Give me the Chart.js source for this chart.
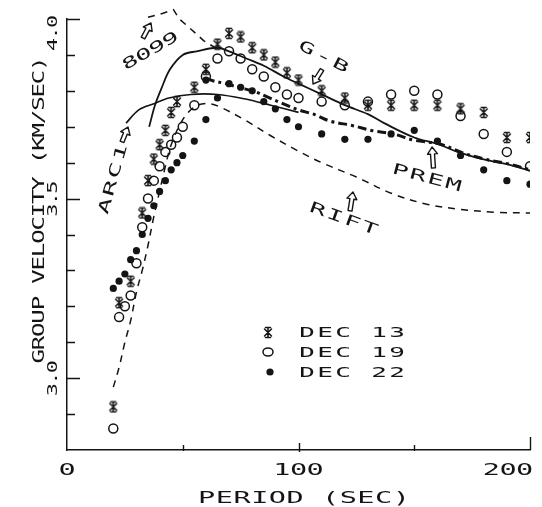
<!DOCTYPE html>
<html>
<head>
<meta charset="utf-8">
<script src="https://cdn.jsdelivr.net/npm/chart.js@4.4.1/dist/chart.umd.min.js"></script>
<style>
  html, body { margin: 0; padding: 0; background: #fff; }
</style>
</head>
<body>
<canvas id="chart" width="542" height="507"></canvas>
<script>
// observed group velocities (period in sec, velocity in km/sec)
const dec13Period = [20, 22.5, 27.5, 32.5, 35, 37.5, 40, 42.5, 45, 47.5, 55, 60, 65, 70, 75, 80, 85, 90, 95, 100, 110, 120, 130, 140, 150, 160, 170, 180, 190, 200];
const dec13Vel = [2.92, 3.21, 3.27, 3.46, 3.55, 3.61, 3.65, 3.69, 3.74, 3.77, 3.81, 3.86, 3.93, 3.96, 3.95, 3.92, 3.90, 3.88, 3.85, 3.83, 3.80, 3.78, 3.76, 3.76, 3.76, 3.76, 3.75, 3.74, 3.67, 3.67];

const dec19Period = [20, 22.5, 25, 27.5, 30, 32.5, 35, 37.5, 40, 42.5, 45, 47.5, 50, 55, 60, 65, 70, 75, 80, 85, 90, 95, 100, 110, 120, 130, 140, 150, 160, 170, 180, 190, 200];
const dec19Vel = [2.86, 3.17, 3.20, 3.23, 3.32, 3.42, 3.50, 3.55, 3.59, 3.63, 3.65, 3.67, 3.70, 3.76, 3.84, 3.89, 3.91, 3.89, 3.86, 3.84, 3.81, 3.79, 3.78, 3.77, 3.76, 3.77, 3.79, 3.80, 3.79, 3.73, 3.68, 3.63, 3.59];

const dec22Period = [20, 22.5, 25, 27.5, 30, 32.5, 35, 37.5, 40, 42.5, 45, 47.5, 50, 55, 60, 60, 65, 70, 75, 80, 85, 90, 95, 100, 110, 120, 130, 140, 150, 160, 170, 180, 190, 200];
const dec22Vel = [3.25, 3.27, 3.29, 3.33, 3.355, 3.40, 3.445, 3.48, 3.52, 3.55, 3.58, 3.60, 3.62, 3.66, 3.72, 3.83, 3.78, 3.82, 3.81, 3.80, 3.77, 3.75, 3.72, 3.70, 3.68, 3.665, 3.665, 3.68, 3.69, 3.66, 3.62, 3.58, 3.55, 3.54];

// model curves
const gbPeriod = [35.5, 38, 41, 44.5, 50, 56, 65, 70, 77.5, 85, 93.5, 100, 110, 120, 130, 137, 150, 160, 170, 180, 190, 200];
const gbVel = [3.70, 3.76, 3.81, 3.86, 3.90, 3.91, 3.92, 3.91, 3.89, 3.87, 3.84, 3.82, 3.79, 3.76, 3.735, 3.71, 3.67, 3.652, 3.627, 3.609, 3.596, 3.578];

const premPeriod = [60, 63, 68.5, 74, 81.5, 86.5, 93, 100, 107, 113.5, 123.5, 132, 141, 149.5, 161, 171, 181, 191, 200];
const premVel = [3.835, 3.828, 3.82, 3.81, 3.797, 3.783, 3.765, 3.747, 3.734, 3.716, 3.703, 3.689, 3.68, 3.663, 3.652, 3.627, 3.609, 3.596, 3.58];

const arcPeriod = [25.5, 31, 37.5, 44, 53.5, 65, 76.5, 88, 100];
const arcVel = [3.71, 3.747, 3.764, 3.78, 3.79, 3.79, 3.778, 3.76, 3.74];

const m8099Period = [35, 41.5, 46, 48.5, 53, 59, 65];
const m8099Vel = [4.005, 4.016, 4.026, 4.0, 3.975, 3.94, 3.916];

const riftPeriod = [20, 22.5, 25, 27.5, 30, 32.5, 35, 37.5, 40, 42.5, 45, 50, 55, 60, 65, 76.5, 88, 100, 110, 125, 140, 155, 170, 185, 200];
const riftVel = [2.975, 3.03, 3.10, 3.16, 3.24, 3.30, 3.37, 3.45, 3.52, 3.59, 3.65, 3.72, 3.755, 3.765, 3.758, 3.72, 3.675, 3.632, 3.60, 3.56, 3.515, 3.485, 3.47, 3.462, 3.46];

// axis ticks
const xLabels = [0, 100, 200];
const xMinor = [50, 150];
const yLabels = [3.0, 3.5, 4.0];
const yMinor = [2.9, 3.1, 3.2, 3.3, 3.4, 3.6, 3.7, 3.8, 3.9];

const ink = '#141414';
const pts = (xs, ys) => xs.map((x, i) => ({ x: x, y: ys[i] }));

// the plotter's asterisk: X with a vertical stroke and bars top and bottom
function starMark() {
  const c = document.createElement('canvas');
  c.width = 12; c.height = 13;
  const g = c.getContext('2d');
  g.strokeStyle = ink; g.lineWidth = 1.5; g.lineCap = 'round';
  g.beginPath();
  g.moveTo(6, 1.5); g.lineTo(6, 11.5);
  g.moveTo(2.5, 3); g.lineTo(9.5, 10);
  g.moveTo(9.5, 3); g.lineTo(2.5, 10);
  g.moveTo(3.5, 1.5); g.lineTo(8.5, 1.5);
  g.moveTo(3.5, 11.5); g.lineTo(8.5, 11.5);
  g.stroke();
  return c;
}
const star = starMark();

// wide plotter-like lettering, one glyph per fixed cell
function plotText(ctx, str, cx, cy, angle, cell, cap, stretch) {
  const size = cap / 0.73;
  ctx.save();
  ctx.translate(cx, cy);
  ctx.rotate(angle);
  ctx.font = size + 'px "DejaVu Sans Mono"';
  ctx.textAlign = 'center';
  ctx.textBaseline = 'alphabetic';
  ctx.fillStyle = ink;
  const n = str.length;
  for (let i = 0; i < n; i++) {
    if (str[i] === ' ') continue;
    ctx.save();
    ctx.translate((i - (n - 1) / 2) * cell, cap / 2);
    ctx.scale(stretch, 1);
    ctx.fillText(str[i], 0, 0);
    ctx.restore();
  }
  ctx.restore();
}

// hollow block arrow, tip at (x, y), pointing along angle
function hollowArrow(ctx, x, y, angle, len) {
  ctx.save();
  ctx.translate(x, y);
  ctx.rotate(angle);
  ctx.beginPath();
  ctx.moveTo(0, 0);
  ctx.lineTo(-7, -5);
  ctx.lineTo(-7, -2);
  ctx.lineTo(-len, -2);
  ctx.lineTo(-len, 2);
  ctx.lineTo(-7, 2);
  ctx.lineTo(-7, 5);
  ctx.closePath();
  ctx.strokeStyle = ink;
  ctx.lineWidth = 1.4;
  ctx.lineJoin = 'round';
  ctx.stroke();
  ctx.restore();
}

const deg = Math.PI / 180;

const decor = {
  id: 'decor',
  afterDraw(chart) {
    const ctx = chart.ctx;
    const xs = chart.scales.x, ys = chart.scales.y;
    const left = chart.chartArea.left, bottom = chart.chartArea.bottom;
    ctx.save();
    ctx.strokeStyle = ink;
    ctx.lineWidth = 1.4;
    ctx.beginPath();
    yMinor.forEach(v => {
      const y = Math.round(ys.getPixelForValue(v)) + 0.5;
      ctx.moveTo(left, y); ctx.lineTo(left + 8, y);
    });
    yLabels.forEach(v => {
      const y = Math.round(ys.getPixelForValue(v)) + 0.5;
      ctx.moveTo(left, y); ctx.lineTo(left + 13, y);
    });
    xMinor.forEach(v => {
      const x = Math.round(xs.getPixelForValue(v)) + 0.5;
      ctx.moveTo(x, bottom + 1); ctx.lineTo(x, bottom - 5);
    });
    [100].forEach(v => {
      const x = Math.round(xs.getPixelForValue(v)) + 0.5;
      ctx.moveTo(x, bottom + 2); ctx.lineTo(x, bottom - 7);
    });
    const xr = Math.round(xs.getPixelForValue(200)) + 0.5;
    ctx.moveTo(xr, bottom); ctx.lineTo(xr, bottom - 13);
    ctx.stroke();

    // tick labels
    xLabels.forEach(v => {
      let x = xs.getPixelForValue(v);
      if (v === 200) x -= 22;
      plotText(ctx, String(v), x, bottom + 19, 0, 16.7, 11, 1.9);
    });
    yLabels.forEach(v => {
      let y = ys.getPixelForValue(v);
      if (v === 4.0) y += 14;
      plotText(ctx, v.toFixed(1), left - 15, y, -90 * deg, 11.5, 10, 1.6);
    });
    // axis titles
    plotText(ctx, 'PERIOD (SEC)', 304, 497, 0, 17.7, 11, 1.9);
    plotText(ctx, 'GROUP VELOCITY (KM/SEC)', 38, 210, -90 * deg, 13.3, 11, 1.6);

    // legend
    ctx.drawImage(star, 262, 326);
    ctx.beginPath();
    ctx.ellipse(268, 352, 5, 4, 0, 0, Math.PI * 2);
    ctx.lineWidth = 1.5; ctx.stroke();
    ctx.beginPath();
    ctx.arc(270, 372, 3.6, 0, Math.PI * 2);
    ctx.fillStyle = ink; ctx.fill();
    plotText(ctx, 'DEC 13', 352, 332, 0, 18, 10, 1.9);
    plotText(ctx, 'DEC 19', 352, 352, 0, 18, 10, 1.9);
    plotText(ctx, 'DEC 22', 352, 372, 0, 18, 10, 1.9);

    // curve annotations
    plotText(ctx, '8099', 150, 50, -30 * deg, 15.5, 11, 1.8);
    hollowArrow(ctx, 151, 23, -62 * deg, 17);
    plotText(ctx, 'G-B', 324, 56, 27 * deg, 19, 11, 1.8);
    hollowArrow(ctx, 313, 84, 122 * deg, 17);
    plotText(ctx, 'ARC1', 112, 179, -74 * deg, 18.5, 11, 1.8);
    hollowArrow(ctx, 128, 127, -68 * deg, 16);
    plotText(ctx, 'PREM', 427, 177, 15 * deg, 18.3, 11, 1.8);
    hollowArrow(ctx, 432, 147, -94 * deg, 21);
    plotText(ctx, 'RIFT', 344, 218, 20 * deg, 18.5, 11, 1.8);
    hollowArrow(ctx, 353, 192, -81 * deg, 19);
    ctx.restore();
  }
};

const lineSet = (label, xs, ys, extra) => Object.assign({
  label: label,
  data: pts(xs, ys),
  showLine: true,
  pointRadius: 0,
  borderColor: ink,
  borderWidth: 1.5,
  fill: false,
  tension: 0.35
}, extra);

new Chart(document.getElementById('chart'), {
  type: 'scatter',
  data: {
    datasets: [
      { label: 'DEC 13', data: pts(dec13Period, dec13Vel), pointStyle: star, pointRadius: 6 },
      { label: 'DEC 19', data: pts(dec19Period, dec19Vel), pointStyle: 'circle', pointRadius: 4.5,
        borderColor: ink, backgroundColor: 'rgba(255,255,255,0)', pointBorderWidth: 1.5 },
      { label: 'DEC 22', data: pts(dec22Period, dec22Vel), pointStyle: 'circle', pointRadius: 3.6,
        borderColor: ink, backgroundColor: ink, pointBorderWidth: 0 },
      lineSet('G-B', gbPeriod, gbVel, { borderWidth: 1.8 }),
      lineSet('PREM', premPeriod, premVel, { borderWidth: 3, borderDash: [9, 4, 3, 4] }),
      lineSet('ARC1', arcPeriod, arcVel, { borderWidth: 1.6 }),
      lineSet('8099', m8099Period, m8099Vel, { borderDash: [7, 6], tension: 0, clip: false }),
      lineSet('RIFT', riftPeriod, riftVel, { borderDash: [7, 6] })
    ]
  },
  options: {
    responsive: false,
    animation: false,
    devicePixelRatio: 1,
    layout: { padding: { left: 67, right: 12, top: 19, bottom: 57 } },
    plugins: { legend: { display: false }, tooltip: { enabled: false } },
    scales: {
      x: {
        type: 'linear', min: 0, max: 200,
        grid: { display: false, drawTicks: false },
        border: { display: true, color: ink, width: 1.5 },
        ticks: { display: false }
      },
      y: {
        type: 'linear', min: 2.8, max: 4.0,
        grid: { display: false, drawTicks: false },
        border: { display: true, color: ink, width: 1.5 },
        ticks: { display: false }
      }
    }
  },
  plugins: [decor]
});
</script>
</body>
</html>
